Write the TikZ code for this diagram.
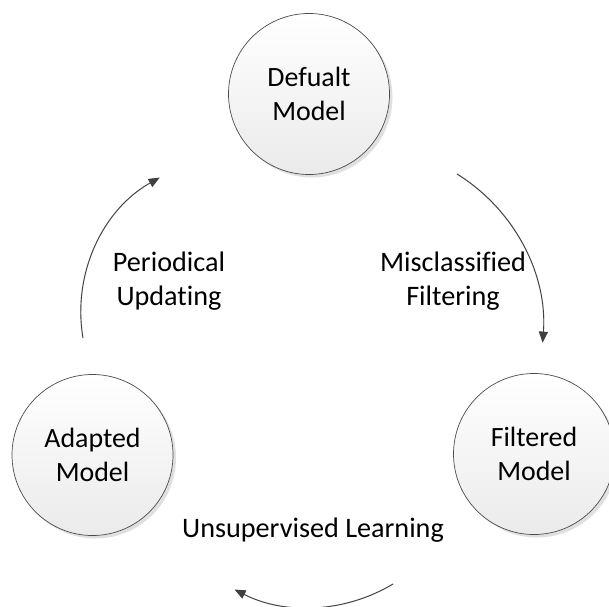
\documentclass[tikz,border=0pt]{standalone}
\usepackage{fontspec}
\setmainfont{Carlito}[Ligatures=NoCommon]
\usetikzlibrary{arrows.meta,shadows}
\begin{document}
\begin{tikzpicture}[x=1bp,y=-1bp,
  model/.style={circle, draw=black!70, line width=0.7bp, minimum size=161bp, inner sep=0pt,
    top color=white, bottom color=black!8,
    drop shadow={shadow xshift=3bp, shadow yshift=-3bp, fill=black!20, opacity=0.6},
    align=center, font=\fontsize{28}{34}\selectfont},
  lbl/.style={align=center, font=\fontsize{28.3}{33.5}\selectfont, inner sep=0pt},
  flow/.style={draw=black!75, line width=0.9bp, -{Triangle[length=11bp,width=9bp]}},
  flowshadow/.style={draw=black!12, line width=1.3bp, -{Triangle[length=11bp,width=9bp]}},
]
\clip (0,0) rectangle (609,607);
\fill[white] (0,0) rectangle (609,607);

% models
\node[model] (def) at (309,94) {Defualt\\Model};
\node[model] (ada) at (92.5,455) {Adapted\\Model};
\node[model] (fil) at (534,454) {Filtered\\Model};

% labels
\node[lbl] (lpu) at (169,281) {Periodical\\Updating};
\node[lbl] (lmf) at (453,281) {Misclassified\\Filtering};
\node[lbl, anchor=base] (lul) at (313,537) {Unsupervised Learning};

% arc start points
\coordinate (sPU) at (83,338);
\coordinate (sMF) at (457,174);
\coordinate (sUL) at (393,584);

% shadows of arcs
\begin{scope}[shift={(3,3)}]
  \draw[flowshadow] (sPU) arc[start angle=170.3, end angle=240.8, radius=154];
  \draw[flowshadow] (sMF) arc[start angle=-58.2, end angle=4.4, radius=182];
  \draw[flowshadow] (sUL) arc[start angle=59, end angle=117, radius=163.5];
\end{scope}

% arcs
\draw[flow] (sPU) arc[start angle=170.3, end angle=240.8, radius=154];
\draw[flow] (sMF) arc[start angle=-58.2, end angle=4.4, radius=182];
\draw[flow] (sUL) arc[start angle=59, end angle=117, radius=163.5];
\end{tikzpicture}
\end{document}
